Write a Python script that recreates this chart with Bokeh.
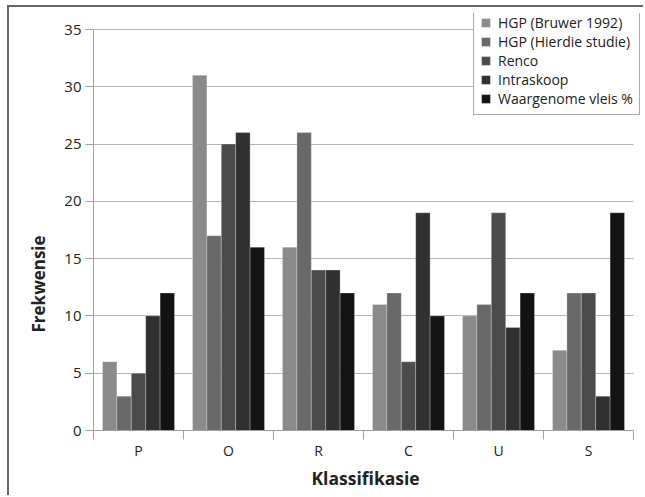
from bokeh.plotting import figure
from bokeh.models import ColumnDataSource, FixedTicker, Legend, LegendItem, Range1d, Title
from bokeh.embed import file_html
from bokeh.resources import INLINE

categories = ["P", "O", "R", "C", "U", "S"]
series_names = ["HGP (Bruwer 1992)", "HGP (Hierdie studie)", "Renco", "Intraskoop", "Waargenome vleis %"]
hgp_bruwer = [6, 31, 16, 11, 10, 7]
hgp_hierdie = [3, 17, 26, 12, 11, 12]
renco = [5, 25, 14, 6, 19, 12]
intraskoop = [10, 26, 14, 19, 9, 3]
waargenome = [12, 16, 12, 10, 12, 19]
y_ticks = [0, 5, 10, 15, 20, 25, 30, 35]
x_title = "Klassifikasie"
y_title = "Frekwensie"

series = [hgp_bruwer, hgp_hierdie, renco, intraskoop, waargenome]
colors = ["#8a8a8a", "#696969", "#4b4b4b", "#303030", "#131313"]

FONT = "Open Sans"
n = len(categories)
y_max = 35

# frame is a little larger than the axes so the legend can overhang them
p = figure(width=636, height=490, output_backend="svg", toolbar_location=None,
           x_range=Range1d(0, n + 12 / 90), y_range=Range1d(0, y_max * 417 / 401),
           min_border_left=84, min_border_top=6, min_border_right=0, min_border_bottom=67,
           outline_line_color=None)
p.styles = {"margin-left": "7px", "margin-top": "5px",
            "border-left": "2px solid #666666", "border-top": "2px solid #666666"}

centers = [i + 0.5 for i in range(n)]
bw = 0.16
renderers = []
for k, (vals, col) in enumerate(zip(series, colors)):
    off = (k - 2) * bw
    src = ColumnDataSource(dict(x=[c + off for c in centers], top=vals))
    r = p.vbar(x="x", top="top", width=bw, bottom=0, source=src,
               fill_color=col, line_color="white", line_alpha=0.25, line_width=1)
    renderers.append(r)

# axes
p.xaxis.bounds = (0, n)
p.xaxis.ticker = FixedTicker(ticks=centers, minor_ticks=list(range(n + 1)))
p.xaxis.major_label_overrides = {c: cat for c, cat in zip(centers, categories)}
p.xaxis.major_tick_out = 0
p.xaxis.major_tick_in = 0
p.xaxis.minor_tick_out = 9
p.xaxis.minor_tick_in = 0
p.xaxis.minor_tick_line_color = "#a0a0a0"
p.xaxis.axis_line_color = "#a0a0a0"
p.xaxis.major_label_standoff = 1
p.xaxis.major_label_text_font = FONT
p.xaxis.major_label_text_font_size = "14px"
p.xaxis.major_label_text_color = "#222222"

p.yaxis.bounds = (0, y_max)
p.yaxis.ticker = FixedTicker(ticks=y_ticks, minor_ticks=[])
p.yaxis.major_tick_out = 8
p.yaxis.major_tick_in = 0
p.yaxis.major_tick_line_color = "#a0a0a0"
p.yaxis.axis_line_color = "#a0a0a0"
p.yaxis.major_label_standoff = 4
p.yaxis.major_label_text_font = FONT
p.yaxis.major_label_text_font_size = "15px"
p.yaxis.major_label_text_color = "#222222"

# axis titles as side-panel titles so they can be offset like the reference
xt = Title(text=x_title, align="left", offset=218, standoff=3,
           text_font=FONT, text_font_style="bold", text_font_size="17.5px",
           text_color="#222222")
p.add_layout(xt, "below")
yt = Title(text=y_title, align="left", offset=98, standoff=23,
           text_font=FONT, text_font_style="bold", text_font_size="17px",
           text_color="#222222")
p.add_layout(yt, "left")

p.xgrid.visible = False
p.ygrid.ticker = FixedTicker(ticks=y_ticks)
p.ygrid.cross_bounds = (0, n)
p.ygrid.grid_line_color = "#b4b4b4"
p.ygrid.grid_line_width = 1

legend = Legend(items=[LegendItem(label=s, renderers=[r]) for s, r in zip(series_names, renderers)],
                location=(380, 315))
legend.label_text_font = FONT
legend.label_text_font_size = "14px"
legend.label_text_color = "#222222"
legend.glyph_width = 11
legend.glyph_height = 11
legend.label_height = 18
legend.label_standoff = 7
legend.spacing = 0
legend.padding = 6
legend.margin = 0
legend.border_line_color = "#555555"
legend.border_line_width = 1
legend.background_fill_color = "white"
legend.background_fill_alpha = 1
p.add_layout(legend)

open("out.html", "w").write(file_html(p, INLINE))
